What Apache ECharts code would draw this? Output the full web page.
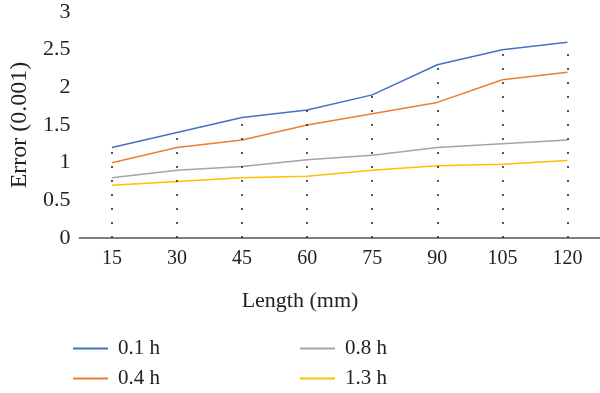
<!DOCTYPE html>
<html>
<head>
<meta charset="utf-8">
<script src="https://cdn.jsdelivr.net/npm/echarts@6/dist/echarts.min.js"></script>
<style>html,body{margin:0;padding:0;background:#fff;}#c{width:600px;height:393px;}</style>
</head>
<body>
<div id="c"></div>
<script>
const categories = ['15', '30', '45', '60', '75', '90', '105', '120'];
const s01 = [1.2, 1.4, 1.6, 1.7, 1.9, 2.3, 2.5, 2.6];
const s04 = [1.0, 1.2, 1.3, 1.5, 1.65, 1.8, 2.1, 2.2];
const s08 = [0.8, 0.9, 0.95, 1.04, 1.1, 1.2, 1.25, 1.3];
const s13 = [0.7, 0.75, 0.8, 0.82, 0.9, 0.96, 0.98, 1.03];
const seriesNames = ['0.1 h', '0.4 h', '0.8 h', '1.3 h'];
const colors = ['#4472C4', '#ED7D31', '#A5A5A5', '#FFC000'];

const font = 'Liberation Serif';
const allSeries = [s01, s04, s08, s13];
const maxVals = categories.map((c, i) => Math.max(...allSeries.map(s => s[i])));

const legendPos = [[68, 333], [68, 363], [295, 333], [295, 363]];
const legends = seriesNames.map((n, i) => ({
  data: [n], left: legendPos[i][0], top: legendPos[i][1],
  icon: 'rect', itemWidth: 35, itemHeight: 2,
  textStyle: { fontFamily: font, fontSize: 21, color: '#222', padding: [0, 0, 0, 5] }
}));

const chart = echarts.init(document.getElementById('c'));
chart.setOption({
  animation: false,
  color: colors,
  textStyle: { fontFamily: font, color: '#222' },
  grid: { left: 78, right: 0, top: 12, bottom: 155, containLabel: false },
  title: {
    text: 'Length (mm)', left: 295, top: 285, textAlign: 'center',
    textStyle: { fontFamily: font, fontSize: 22, fontWeight: 'normal', color: '#222' }
  },
  legend: legends,
  xAxis: {
    type: 'category', data: categories, boundaryGap: true,
    axisLine: { lineStyle: { color: '#555', width: 1.5 } },
    axisTick: { show: false },
    axisLabel: { fontFamily: font, fontSize: 20, color: '#222', margin: 11 },
    splitLine: { show: false }
  },
  yAxis: {
    type: 'value', min: 0, max: 3, interval: 0.5,
    name: 'Error (0.001)', nameLocation: 'middle', nameGap: 44,
    nameTextStyle: { fontFamily: font, fontSize: 24, color: '#222' },
    axisLine: { show: false }, axisTick: { show: false },
    axisLabel: { fontFamily: font, fontSize: 22, color: '#222', margin: 9 },
    splitLine: { show: false }
  },
  series: [
    {
      name: seriesNames[0], type: 'line', data: s01, symbol: 'none', lineStyle: { width: 1.5 },
      z: 3,
      markLine: {
        silent: true, symbol: 'none', label: { show: false },
        lineStyle: { color: '#222', type: [2, 12], width: 1.5 },
        data: categories.map((c, i) => [{ coord: [c, 0] }, { coord: [c, maxVals[i]] }])
      }
    },
    { name: seriesNames[1], type: 'line', data: s04, symbol: 'none', lineStyle: { width: 1.5 }, z: 3 },
    { name: seriesNames[2], type: 'line', data: s08, symbol: 'none', lineStyle: { width: 1.5 }, z: 3 },
    { name: seriesNames[3], type: 'line', data: s13, symbol: 'none', lineStyle: { width: 1.5 }, z: 3 }
  ]
});
</script>
</body>
</html>
